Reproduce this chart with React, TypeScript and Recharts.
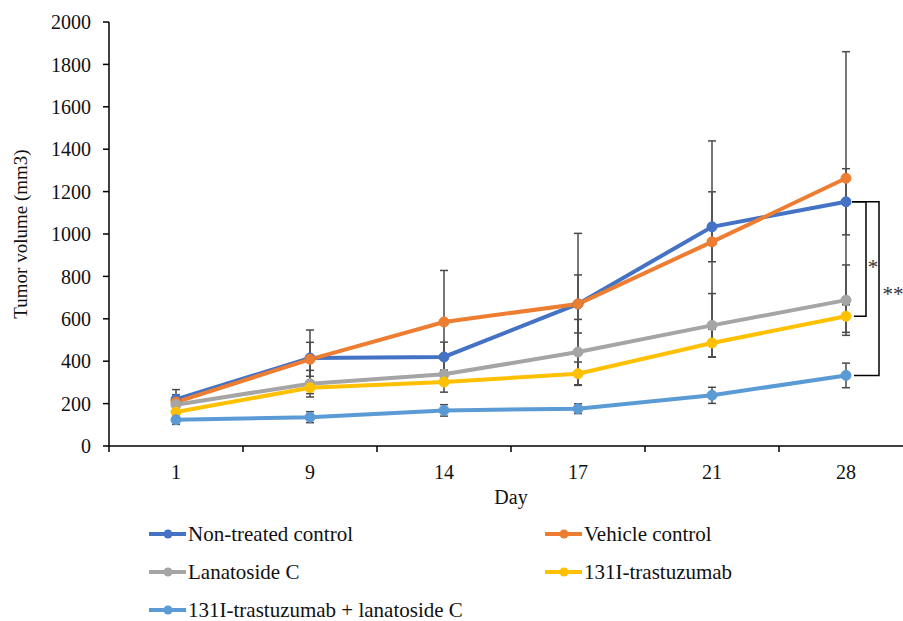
import React from 'react';
import { LineChart, Line, XAxis, YAxis, ErrorBar, ReferenceLine } from 'recharts';

const days = ['1', '9', '14', '17', '21', '28'];

const nonTreated = [220, 415, 420, 670, 1034, 1152];
const nonTreatedSd = [46, 132, 70, 137, 165, 156];
const vehicle = [207, 409, 585, 670, 963, 1263];
const vehicleSd = [35, 80, 243, 333, 476, 597];
const lanatoside = [195, 294, 338, 443, 569, 688];
const lanatosideSd = [20, 63, 20, 154, 150, 166];
const trastuzumab = [160, 275, 302, 341, 486, 612];
const trastuzumabSd = [15, 28, 48, 55, 65, 76];
const combo = [124, 136, 168, 176, 239, 333];
const comboSd = [22, 26, 27, 23, 38, 58];

const yTicks = [0, 200, 400, 600, 800, 1000, 1200, 1400, 1600, 1800, 2000];

const FONT = '"Liberation Serif", "Times New Roman", serif';

const series = [
  { key: 'nt', name: 'Non-treated control', color: '#4472C4', values: nonTreated, sd: nonTreatedSd },
  { key: 'veh', name: 'Vehicle control', color: '#ED7D31', values: vehicle, sd: vehicleSd },
  { key: 'lan', name: 'Lanatoside C', color: '#A5A5A5', values: lanatoside, sd: lanatosideSd },
  { key: 'tra', name: '131I-trastuzumab', color: '#FFC000', values: trastuzumab, sd: trastuzumabSd },
  { key: 'cmb', name: '131I-trastuzumab + lanatoside C', color: '#5B9BD5', values: combo, sd: comboSd },
];

const data = days.map((day, i) => {
  const row: any = { day };
  series.forEach((s) => {
    row[s.key] = s.values[i];
    row[s.key + 'Sd'] = s.sd[i];
  });
  return row;
});

// legend layout: [column, row]
const legendSlots = [
  [0, 0],
  [1, 0],
  [0, 1],
  [1, 1],
  [0, 2],
];

const DayTick = (props: any) => {
  const { x, y, payload, index, visibleTicksCount } = props;
  const half = payload.offset || 67;
  return (
    <g>
      <line x1={x - half} y1={y} x2={x - half} y2={y + 6} stroke="#000" strokeWidth={1.5} />
      {index === visibleTicksCount - 1 && (
        <line x1={x + half} y1={y} x2={x + half} y2={y + 6} stroke="#000" strokeWidth={1.5} />
      )}
      <text x={x} y={y + 33} textAnchor="middle" fontSize={20} fontFamily={FONT} fill="#111">
        {payload.value}
      </text>
    </g>
  );
};

const Bracket = (reach: number, label: string, labelDx: number, labelDy: number) => (props: any) => {
  const { x1, y1, y2 } = props;
  const mid = (y1 + y2) / 2;
  return (
    <g>
      <path
        d={`M${x1 + 6},${y1} H${x1 + reach} V${y2} H${x1 + 8}`}
        fill="none"
        stroke="#000"
        strokeWidth={1.5}
      />
      <text x={x1 + labelDx} y={mid + labelDy} textAnchor="middle" fontSize={21} fontFamily={FONT} fill="#333">
        {label}
      </text>
    </g>
  );
};

export default function App() {
  return (
    <div
      style={{
        position: 'absolute',
        left: 0,
        top: 0,
        width: 903,
        height: 621,
        overflow: 'hidden',
        background: '#fff',
        fontFamily: FONT,
      }}
    >
      <LineChart width={920} height={520} data={data} margin={{ top: 22, right: 7, left: 0, bottom: 10 }}>
        <XAxis
          dataKey="day"
          scale="band"
          height={64}
          tickSize={0}
          tickMargin={0}
          tickLine={false}
          axisLine={{ stroke: '#000', strokeWidth: 1.5 }}
          tick={<DayTick />}
          interval={0}
          label={{
            content: (p: any) => {
              const vb = p.viewBox;
              return (
                <text
                  x={vb.x + vb.width / 2}
                  y={vb.y + 58}
                  textAnchor="middle"
                  fontSize={20}
                  fontFamily={FONT}
                  fill="#111"
                >
                  Day
                </text>
              );
            },
          }}
        />
        <YAxis
          width={109}
          domain={[0, 2000]}
          ticks={yTicks}
          interval={0}
          tickSize={6}
          tickMargin={12}
          axisLine={{ stroke: '#000', strokeWidth: 1.5 }}
          tickLine={{ stroke: '#000', strokeWidth: 1.5 }}
          tick={{ fontSize: 20, fontFamily: FONT, fill: '#111' }}
          label={{
            content: (p: any) => {
              const vb = p.viewBox;
              const cx = vb.x + 20;
              const cy = vb.y + vb.height / 2;
              return (
                <text
                  x={cx}
                  y={cy}
                  transform={`rotate(-90, ${cx}, ${cy})`}
                  textAnchor="middle"
                  dominantBaseline="central"
                  fontSize={19}
                  fontFamily={FONT}
                  fill="#111"
                >
                  Tumor volume (mm3)
                </text>
              );
            },
          }}
        />
        {series.map((s) => (
          <Line
            key={s.key}
            dataKey={s.key}
            name={s.name}
            stroke={s.color}
            strokeWidth={4}
            type="linear"
            dot={{ r: 5, fill: s.color, stroke: s.color, strokeWidth: 1 }}
            activeDot={false}
            isAnimationActive={false}
          >
            <ErrorBar
              dataKey={s.key + 'Sd'}
              width={4}
              stroke="#4a4a4a"
              strokeWidth={1.5}
              isAnimationActive={false}
            />
          </Line>
        ))}
        <ReferenceLine
          segment={[
            { x: '28', y: nonTreated[5] },
            { x: '28', y: trastuzumab[5] },
          ]}
          ifOverflow="visible"
          shape={Bracket(20, '*', 27, 15)}
        />
        <ReferenceLine
          segment={[
            { x: '28', y: nonTreated[5] },
            { x: '28', y: combo[5] },
          ]}
          ifOverflow="visible"
          shape={Bracket(33, '**', 47, 12)}
        />
      </LineChart>
      {series.map((s, i) => {
        const [col, row] = legendSlots[i];
        return (
          <div
            key={s.key}
            style={{
              position: 'absolute',
              left: col === 0 ? 149 : 545,
              top: 522 + row * 38,
              height: 24,
              display: 'flex',
              alignItems: 'center',
              fontSize: 21,
              color: '#111',
              whiteSpace: 'nowrap',
            }}
          >
            <svg width={38} height={24} style={{ marginRight: 1 }}>
              <line x1={0} y1={12} x2={37} y2={12} stroke={s.color} strokeWidth={4} />
              <circle cx={19} cy={12} r={4.5} fill={s.color} />
            </svg>
            <span>{s.name}</span>
          </div>
        );
      })}
    </div>
  );
}
